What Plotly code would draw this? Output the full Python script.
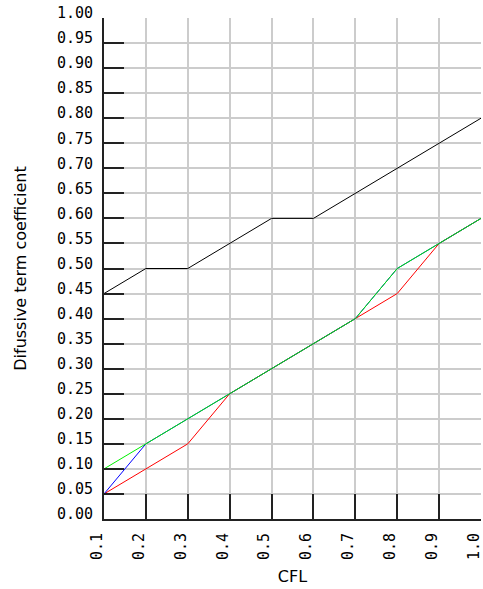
import plotly.graph_objects as go

cfl = [0.1, 0.2, 0.3, 0.4, 0.5, 0.6, 0.7, 0.8, 0.9, 1.0]
black_vals = [0.45, 0.50, 0.50, 0.55, 0.60, 0.60, 0.65, 0.70, 0.75, 0.80]
red_vals = [0.05, 0.10, 0.15, 0.25, 0.30, 0.35, 0.40, 0.45, 0.55, 0.60]
blue_vals = [0.05, 0.15, 0.20, 0.25, 0.30, 0.35, 0.40, 0.50, 0.55, 0.60]
green_vals = [0.10, 0.15, 0.20, 0.25, 0.30, 0.35, 0.40, 0.50, 0.55, 0.60]

y_ticks = [round(i * 0.05, 2) for i in range(21)]
y_tick_text = [f"{v:.2f}" for v in y_ticks]
x_tick_text = [f"{v:.1f}" for v in cfl]

fig = go.Figure()
for vals, col in [(black_vals, "#000000"), (red_vals, "#ff0000"),
                  (blue_vals, "#0000ff"), (green_vals, "#00ee00")]:
    fig.add_trace(go.Scatter(x=cfl, y=vals, mode="lines",
                             line=dict(color=col, width=1), showlegend=False))

font = dict(family="DejaVu Sans Mono", size=15, color="#000000")
title_font = dict(family="DejaVu Sans", size=16, color="#000000")
fig.update_layout(
    width=483, height=589,
    margin=dict(l=104, r=2, t=18, b=70, autoexpand=False),
    paper_bgcolor="white", plot_bgcolor="white",
    font=font,
)
fig.update_xaxes(
    range=[0.1, 1.0], tickvals=cfl, ticktext=x_tick_text, tickangle=-90,
    ticks="inside", ticklen=25, tickwidth=2, tickcolor="#222222",
    showgrid=True, gridcolor="#cccccc", gridwidth=2,
    showline=True, linecolor="#222222", linewidth=2,
    zeroline=False, ticklabelstandoff=6, automargin=False,
    ticklabeloverflow="allow", ticklabelshift=-7,
    title=dict(text="CFL", font=title_font, standoff=12),
)
fig.update_yaxes(
    range=[0, 1.0], tickvals=y_ticks, ticktext=y_tick_text,
    ticks="inside", ticklen=20, tickwidth=2, tickcolor="#222222",
    showgrid=True, gridcolor="#cccccc", gridwidth=2,
    showline=True, linecolor="#222222", linewidth=2,
    zeroline=False, ticklabelstandoff=6, automargin=False,
    ticklabeloverflow="allow", ticklabelshift=-5,
    title=dict(text="Difussive term coefficient", font=title_font, standoff=26),
)
fig.write_html("out.html", config={"displayModeBar": False},
               post_script="document.body.style.margin='0';")
